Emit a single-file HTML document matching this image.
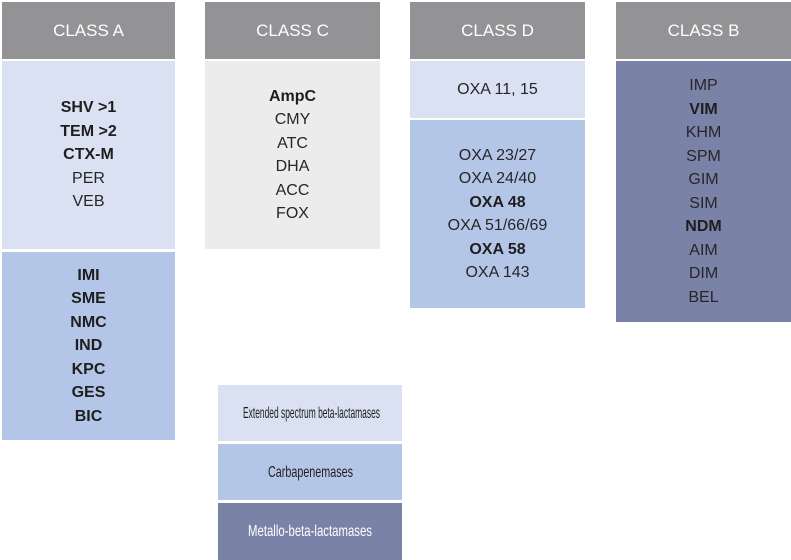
<!DOCTYPE html>
<html><head><meta charset="utf-8"><style>
html,body{margin:0;padding:0;background:#fff;}
body{width:791px;height:560px;position:relative;overflow:hidden;font-family:"Liberation Sans",sans-serif;}
.b{position:absolute;display:flex;flex-direction:column;align-items:center;justify-content:center;text-align:center;color:#262626;font-size:16px;line-height:23.5px;}
.h{background:#939396;color:#fff;font-size:17px;}
.pale{background:#d9e1f2;}
.carb{background:#b4c6e7;}
.grey{background:#ececec;}
.met{background:#7b82a8;}
b{font-weight:bold;color:#1e1e1e;}
svg{position:absolute;left:0;top:0;}
</style></head><body>
<div class="b h" style="left:2px;top:2px;width:173px;height:57px;">CLASS A</div>
<div class="b pale" style="left:2px;top:61px;width:173px;height:188px;"><b>SHV &gt;1</b><b>TEM &gt;2</b><b>CTX-M</b><span>PER</span><span>VEB</span></div>
<div class="b carb" style="left:2px;top:252px;width:173px;height:188px;"><b>IMI</b><b>SME</b><b>NMC</b><b>IND</b><b>KPC</b><b>GES</b><b>BIC</b></div>

<div class="b h" style="left:205px;top:2px;width:175px;height:57px;">CLASS C</div>
<div class="b grey" style="left:205px;top:61px;width:175px;height:188px;"><b>AmpC</b><span>CMY</span><span>ATC</span><span>DHA</span><span>ACC</span><span>FOX</span></div>

<div class="b h" style="left:410px;top:2px;width:175px;height:57px;">CLASS D</div>
<div class="b pale" style="left:410px;top:61px;width:175px;height:57px;">OXA 11, 15</div>
<div class="b carb" style="left:410px;top:120px;width:175px;height:188px;"><span>OXA 23/27</span><span>OXA 24/40</span><b>OXA 48</b><span>OXA 51/66/69</span><b>OXA 58</b><span>OXA 143</span></div>

<div class="b h" style="left:616px;top:2px;width:175px;height:57px;">CLASS B</div>
<div class="b met" style="left:616px;top:61px;width:175px;height:261px;"><span>IMP</span><b>VIM</b><span>KHM</span><span>SPM</span><span>GIM</span><span>SIM</span><b>NDM</b><span>AIM</span><span>DIM</span><span>BEL</span></div>

<svg width="791" height="560">
<rect x="218" y="385" width="184" height="56" fill="#d9e1f2"/>
<rect x="218" y="444" width="184" height="56" fill="#b4c6e7"/>
<rect x="218" y="503" width="184" height="57" fill="#7b82a8"/>
<text x="243" y="418" font-family="Liberation Sans, sans-serif" font-size="16" fill="#1e1e1e" textLength="137" lengthAdjust="spacingAndGlyphs">Extended spectrum beta-lactamases</text>
<text x="268" y="477" font-family="Liberation Sans, sans-serif" font-size="16" fill="#1e1e1e" textLength="85" lengthAdjust="spacingAndGlyphs">Carbapenemases</text>
<text x="248" y="536" font-family="Liberation Sans, sans-serif" font-size="16" fill="#ffffff" textLength="124" lengthAdjust="spacingAndGlyphs">Metallo-beta-lactamases</text>
</svg>
</body></html>
